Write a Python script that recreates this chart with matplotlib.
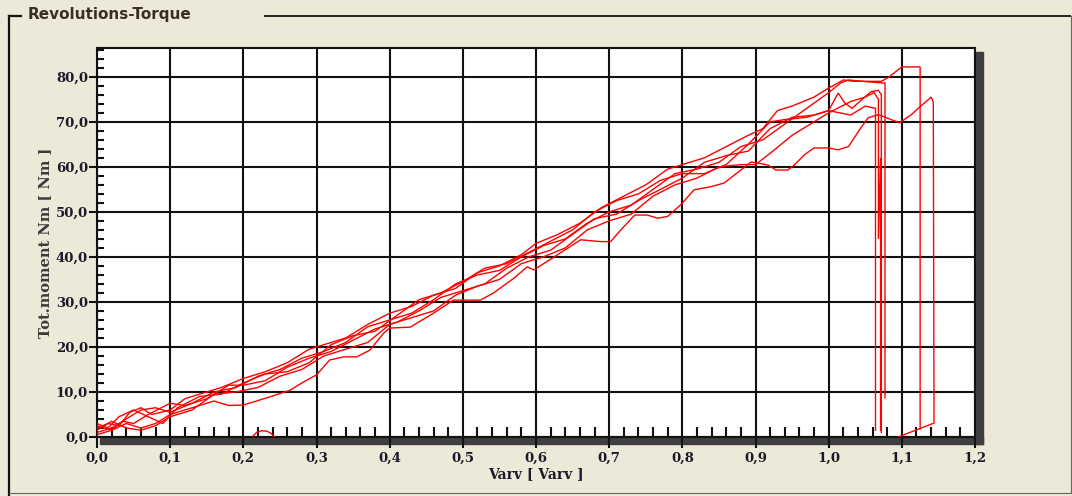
import matplotlib
matplotlib.use("Agg")
import matplotlib.pyplot as plt
from matplotlib.ticker import MultipleLocator, FuncFormatter
from matplotlib.patches import Rectangle
from matplotlib.lines import Line2D

# ---------------- data ----------------
title = "Revolutions-Torque"
x_label = "Varv [ Varv ]"
y_label = "Tot.moment Nm [ Nm ]"

# run A (highest, flat top at ~82 then drop)
a_x = [0.0, 0.015, 0.03, 0.045, 0.06, 0.075, 0.1, 0.12, 0.14, 0.17, 0.2, 0.23, 0.26, 0.29, 0.31,
       0.34, 0.37, 0.4, 0.43, 0.46, 0.49, 0.52, 0.55, 0.58, 0.6, 0.63, 0.66, 0.69, 0.72, 0.75,
       0.78, 0.8, 0.83, 0.86, 0.89, 0.91, 0.93, 0.95, 0.98, 1.0, 1.02, 1.035, 1.06, 1.072,
       1.081, 1.1, 1.125, 1.125]
a_y = [2.0, 3.0, 2.5, 5.5, 6.5, 5.0, 6.0, 8.5, 9.5, 11.0, 13.0, 14.5, 16.5, 19.5, 20.5,
       22.0, 25.0, 27.5, 29.0, 31.5, 33.0, 36.5, 38.0, 40.5, 43.0, 45.0, 47.5, 51.0, 53.5, 56.0,
       59.5, 60.5, 62.0, 64.5, 67.0, 68.5, 72.5, 73.5, 75.5, 77.5, 79.3, 79.0, 79.0, 79.0,
       79.8, 82.2, 82.2, 1.8]

# run B
b_x = [0.0, 0.02, 0.04, 0.06, 0.08, 0.1, 0.13, 0.16, 0.19, 0.22, 0.25, 0.28, 0.31, 0.34, 0.37,
       0.4, 0.43, 0.46, 0.49, 0.52, 0.55, 0.58, 0.61, 0.64, 0.67, 0.7, 0.73, 0.76, 0.79, 0.82,
       0.85, 0.88, 0.91, 0.94, 0.97, 1.0, 1.017, 1.027, 1.06, 1.077, 1.077]
b_y = [1.0, 2.0, 4.0, 6.0, 6.5, 5.5, 7.5, 10.0, 11.0, 13.5, 15.0, 17.5, 19.0, 21.0, 24.5,
       26.0, 27.5, 30.5, 34.0, 36.0, 37.0, 40.0, 42.5, 44.0, 47.5, 50.0, 51.5, 55.0, 58.5, 59.5,
       61.0, 64.5, 66.0, 69.5, 73.0, 76.5, 78.7, 79.3, 78.8, 78.6, 8.7]

# run C
c_x = [0.0, 0.02, 0.035, 0.05, 0.07, 0.1, 0.12, 0.15, 0.18, 0.2, 0.23, 0.26, 0.29, 0.32, 0.35,
       0.38, 0.41, 0.44, 0.47, 0.5, 0.53, 0.56, 0.59, 0.62, 0.65, 0.68, 0.71, 0.74, 0.77, 0.8,
       0.83, 0.86, 0.89, 0.92, 0.95, 0.98, 1.0, 1.013, 1.022, 1.032, 1.045, 1.058, 1.068,
       1.072, 1.072]
c_y = [2.5, 1.5, 3.5, 3.0, 5.0, 7.5, 7.0, 8.5, 11.5, 11.5, 12.5, 15.5, 17.5, 19.0, 21.5,
       24.0, 25.5, 28.0, 31.0, 32.5, 34.0, 37.5, 40.0, 41.5, 45.0, 48.5, 49.5, 52.5, 55.0, 57.5,
       61.0, 62.5, 63.5, 68.5, 71.0, 71.5, 72.5, 76.4, 74.2, 73.0, 74.9, 76.7, 77.0,
       76.0, 1.0]

# run D
d_x = [0.0, 0.02, 0.04, 0.06, 0.08, 0.1, 0.13, 0.16, 0.19, 0.22, 0.25, 0.28, 0.31, 0.34, 0.37,
       0.4, 0.43, 0.46, 0.49, 0.52, 0.55, 0.58, 0.61, 0.64, 0.67, 0.7, 0.73, 0.76, 0.79, 0.82,
       0.85, 0.88, 0.9, 0.92, 0.95, 0.98, 1.0, 1.03, 1.05, 1.062, 1.068, 1.068, 1.071, 1.071]
d_y = [1.5, 3.5, 2.0, 1.5, 2.5, 4.5, 6.0, 9.5, 10.0, 11.0, 13.5, 15.0, 18.0, 19.5, 21.0,
       25.0, 26.5, 28.0, 31.5, 33.5, 35.0, 38.5, 40.0, 42.0, 46.0, 48.0, 49.5, 53.5, 56.0, 57.5,
       60.0, 60.5, 60.5, 63.0, 67.0, 70.0, 72.0, 74.5, 75.5, 76.5, 75.0, 44.0, 62.0, 1.5]

# run F
f_x = [0.0, 0.015, 0.03, 0.05, 0.07, 0.09, 0.11, 0.14, 0.17, 0.2, 0.23, 0.26, 0.29, 0.32, 0.35,
       0.38, 0.41, 0.44, 0.47, 0.5, 0.53, 0.56, 0.59, 0.62, 0.65, 0.68, 0.71, 0.74, 0.77, 0.8,
       0.83, 0.86, 0.89, 0.92, 0.94, 0.97, 1.0, 1.03, 1.05, 1.064, 1.064]
f_y = [3.0, 2.0, 4.5, 6.0, 4.5, 3.0, 6.5, 9.0, 9.5, 12.0, 14.0, 14.5, 16.5, 20.5, 22.5,
       23.5, 27.0, 30.5, 32.0, 34.5, 37.5, 38.5, 41.0, 43.5, 46.0, 50.0, 52.5, 54.0, 57.0, 58.5,
       58.5, 60.5, 65.0, 70.0, 70.5, 71.0, 72.5, 71.5, 73.5, 73.0, 1.5]

# run E (lowest, ends at ~1.14)
e_x = [0.0, 0.02, 0.04, 0.06, 0.08, 0.1, 0.13, 0.16, 0.18, 0.2, 0.236, 0.264, 0.282, 0.3, 0.318,
       0.337, 0.355, 0.373, 0.392, 0.4, 0.428, 0.46, 0.487, 0.524, 0.542, 0.57, 0.588, 0.597,
       0.643, 0.661, 0.688, 0.702, 0.716, 0.735, 0.752, 0.766, 0.78, 0.798, 0.816, 0.839,
       0.857, 0.88, 0.894, 0.917, 0.928, 0.944, 0.953, 0.967, 0.98, 0.999, 1.013, 1.027,
       1.045, 1.054, 1.068, 1.087, 1.097, 1.113, 1.123, 1.136, 1.14, 1.143, 1.144, 1.095]
e_y = [0.5, 1.5, 3.0, 2.0, 3.0, 5.0, 6.5, 8.0, 7.0, 7.1, 8.9, 10.4, 12.2, 13.8, 17.1,
       17.8, 17.8, 19.3, 23.1, 24.2, 24.4, 27.5, 30.4, 30.4, 32.0, 35.3, 37.8, 37.1,
       41.9, 43.8, 43.4, 43.4, 46.0, 49.3, 49.3, 48.6, 49.0, 51.6, 54.9, 55.6,
       56.4, 59.3, 61.1, 60.4, 59.3, 59.3, 60.4, 62.7, 64.2, 64.2, 63.8, 64.5,
       68.9, 70.9, 71.6, 70.4, 69.8, 71.6, 73.1, 74.9, 75.5, 74.4, 3.1, 0.0]

# small trace near the x axis
g_x = [0.212, 0.218, 0.225, 0.232, 0.238, 0.243]
g_y = [0.0, 1.0, 1.4, 1.3, 0.8, 0.0]

runs = [(a_x, a_y), (b_x, b_y), (c_x, c_y), (d_x, d_y), (f_x, f_y), (e_x, e_y), (g_x, g_y)]

x_min, x_max = 0.0, 1.2
y_min, y_max = 0.0, 86.4

# ---------------- figure ----------------
W, H = 1072, 496
BG = "#ECE9D8"
fig = plt.figure(figsize=(W / 100, H / 100), dpi=100, facecolor=BG)

def fx(px):
    return px / W

def fy(py):
    return 1 - py / H

ax = fig.add_axes([fx(97), fy(437), fx(975) - fx(97), fy(48) - fy(437)])
ax.set_facecolor("white")

for xs, ys in runs:
    ax.plot(xs, ys, color="#FF0000", lw=1.0, solid_joinstyle="miter", zorder=3)

ax.set_xlim(x_min, x_max)
ax.set_ylim(y_min, y_max)

ax.xaxis.set_major_locator(MultipleLocator(0.1))
ax.xaxis.set_minor_locator(MultipleLocator(0.02))
ax.yaxis.set_major_locator(MultipleLocator(10))
ax.yaxis.set_minor_locator(MultipleLocator(2))

comma = FuncFormatter(lambda v, p: f"{v:.1f}".replace(".", ","))
ax.xaxis.set_major_formatter(comma)
ax.yaxis.set_major_formatter(comma)

ax.grid(True, which="major", color="#111111", lw=1.5, zorder=1)
ax.set_axisbelow(True)

for s in ax.spines.values():
    s.set_color("#111111")
    s.set_linewidth(1.5)

ax.tick_params(which="major", axis="x", direction="out", length=8, width=1.5,
               color="#111111", pad=3, labelcolor="#1a1a2a")
ax.tick_params(which="major", axis="y", direction="out", length=6, width=1.5,
               color="#111111", pad=0.5, labelcolor="#1a1a2a")
ax.tick_params(which="minor", axis="x", direction="in", length=7, width=1.5, color="#111111")
ax.tick_params(which="minor", axis="y", direction="in", length=5, width=1.5, color="#111111")
for lab in ax.get_xticklabels() + ax.get_yticklabels():
    lab.set_fontfamily("DejaVu Serif")
    lab.set_fontweight("bold")
    lab.set_fontsize(9.5)

ax.set_xlabel(x_label, fontfamily="DejaVu Serif", fontweight="bold", fontsize=10,
              color="#1a1a2a", labelpad=1)
ax.set_ylabel(y_label, fontfamily="DejaVu Serif", fontweight="bold", fontsize=10.5,
              color="#3a3a3a", labelpad=3)

# 3D-like dark shadow along the bottom and right of the plot
shadow = "#3f3f3f"
fig.add_artist(Rectangle((fx(100), fy(444)), fx(983) - fx(100), fy(437) - fy(444),
                         transform=fig.transFigure, color=shadow, zorder=-1))
fig.add_artist(Rectangle((fx(976), fy(444)), fx(983) - fx(976), fy(52) - fy(444),
                         transform=fig.transFigure, color=shadow, zorder=-1))

# group box frame
fig.add_artist(Line2D([fx(9), fx(9)], [fy(16), fy(496)], transform=fig.transFigure,
                      color="#111111", lw=1.6))
fig.add_artist(Line2D([fx(9), fx(21)], [fy(16), fy(16)], transform=fig.transFigure,
                      color="#111111", lw=1.6))
fig.add_artist(Line2D([fx(265), fx(1070)], [fy(16), fy(16)], transform=fig.transFigure,
                      color="#222222", lw=1.4))
fig.add_artist(Line2D([fx(1070.5), fx(1070.5)], [fy(16), fy(493)], transform=fig.transFigure,
                      color="#666666", lw=0.8))
fig.add_artist(Line2D([fx(9), fx(1070.5)], [fy(493), fy(493)], transform=fig.transFigure,
                      color="#666666", lw=0.8))

fig.text(fx(28), fy(15), title, fontsize=11, fontweight="bold", family="DejaVu Sans",
         color="#3a3020", va="center", ha="left")

fig.savefig("out.png", dpi=100, facecolor=BG)
